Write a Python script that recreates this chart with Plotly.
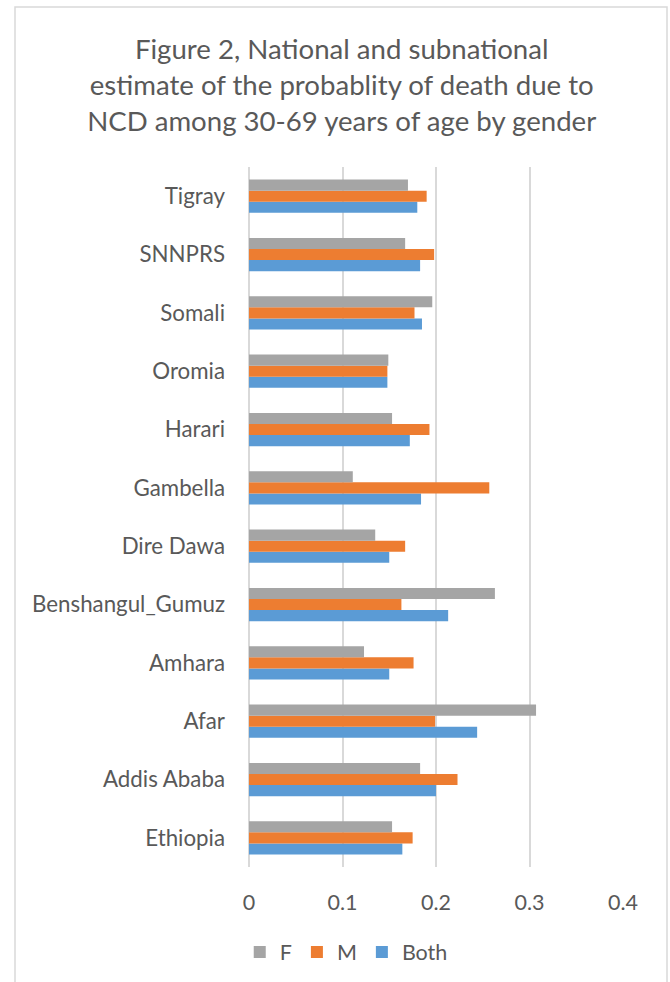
import plotly.graph_objects as go

regions = ["Ethiopia", "Addis Ababa", "Afar", "Amhara", "Benshangul_Gumuz",
           "Dire Dawa", "Gambella", "Harari", "Oromia", "Somali", "SNNPRS", "Tigray"]
both = [0.164, 0.200, 0.244, 0.150, 0.213, 0.150, 0.184, 0.172, 0.148, 0.185, 0.183, 0.180]
male = [0.175, 0.223, 0.199, 0.176, 0.163, 0.167, 0.257, 0.193, 0.148, 0.177, 0.198, 0.190]
female = [0.153, 0.183, 0.307, 0.123, 0.263, 0.135, 0.111, 0.153, 0.149, 0.196, 0.167, 0.170]
x_ticks = [0, 0.1, 0.2, 0.3, 0.4]
x_tick_labels = ["0", "0.1", "0.2", "0.3", "0.4"]

title_text = ("Figure 2, National and subnational<br>"
              "estimate of the probablity of death due to<br>"
              "NCD among 30-69 years of age by gender")

FONT = "Lato"
TXT = "#595959"
GRID = "#D9D9D9"

fig = go.Figure()
fig.add_trace(go.Bar(y=regions, x=both, name="Both", orientation="h",
                     marker=dict(color="#5B9BD5", line=dict(width=0))))
fig.add_trace(go.Bar(y=regions, x=male, name="M", orientation="h",
                     marker=dict(color="#ED7D31", line=dict(width=0))))
fig.add_trace(go.Bar(y=regions, x=female, name="F", orientation="h",
                     marker=dict(color="#A5A5A5", line=dict(width=0))))

W, H = 670, 982
L, R, T, B = 249, 47, 167, 115
pw, ph = W - L - R, H - T - B

def px_x(x):
    return (x - L) / pw

def px_y(y):
    return (H - B - y) / ph

fig.update_layout(
    width=W, height=H,
    margin=dict(l=L, r=R, t=T, b=B, autoexpand=False),
    paper_bgcolor="white", plot_bgcolor="white",
    barmode="group", bargap=0.43, bargroupgap=0,
    font=dict(family=FONT, color=TXT, size=22),
    title=dict(text=title_text, x=0.51, xanchor="center", xref="container",
               y=1 - 59 / H, yanchor="top", yref="container",
               font=dict(family=FONT, size=27.6, color=TXT)),
    xaxis=dict(range=[0, 0.4], tickvals=x_ticks, ticktext=x_tick_labels,
               showgrid=True, gridcolor=GRID, gridwidth=1.5,
               zeroline=True, zerolinecolor=GRID, zerolinewidth=1.5,
               showline=False, ticks="", ticklabelstandoff=20,
               tickfont=dict(size=21.5, color=TXT, family=FONT), fixedrange=True),
    yaxis=dict(categoryorder="array", categoryarray=regions,
               showgrid=False, zeroline=False, showline=False, ticks="",
               ticklabelstandoff=23,
               tickfont=dict(size=22.3, color=TXT, family=FONT), fixedrange=True),
    legend=dict(orientation="h", traceorder="reversed",
                x=0.26, xanchor="center", y=px_y(952), yanchor="middle",
                font=dict(size=21.5, color=TXT, family=FONT),
                itemwidth=30, bgcolor="rgba(0,0,0,0)"),
    showlegend=True,
    shapes=[dict(type="rect", xref="paper", yref="paper",
                 x0=px_x(15), x1=px_x(667), y0=px_y(1000), y1=px_y(7),
                 line=dict(color="#D9D9D9", width=1.5), fillcolor="rgba(0,0,0,0)",
                 layer="below")],
)

fig.write_html("out.html", config={"displayModeBar": False})
